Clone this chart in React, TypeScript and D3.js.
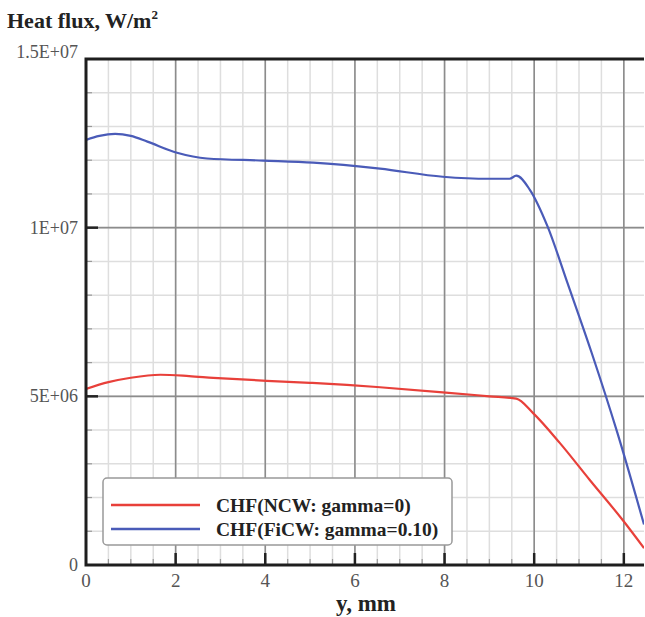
import { useEffect, useRef } from "react";
import * as d3 from "d3";

// CHF(NCW: gamma=0)
const ncwY = [0, 0.5, 1.0, 1.66, 2.3, 2.84, 4.03, 5.0, 5.82, 6.56, 7.96, 9.0, 9.6, 9.97, 10.57, 11.24, 11.97, 12.45];
const ncwQ = [5.22e6, 5.42e6, 5.55e6, 5.64e6, 5.6e6, 5.55e6, 5.46e6, 5.4e6, 5.34e6, 5.27e6, 5.12e6, 5.0e6, 4.93e6, 4.51e6, 3.62e6, 2.52e6, 1.34e6, 0.5e6];

// CHF(FiCW: gamma=0.10)
const ficwY = [0, 0.3, 0.65, 1.0, 1.37, 2.03, 2.7, 3.95, 5.07, 6.56, 7.96, 9.0, 9.45, 9.6, 9.9, 10.3, 10.74, 11.28, 11.86, 12.45];
const ficwQ = [12.6e6, 12.72e6, 12.78e6, 12.72e6, 12.55e6, 12.22e6, 12.05e6, 11.99e6, 11.93e6, 11.75e6, 11.51e6, 11.45e6, 11.45e6, 11.54e6, 11.13e6, 10.03e6, 8.37e6, 6.3e6, 3.9e6, 1.2e6];

const xTicks = [0, 2, 4, 6, 8, 10, 12];
const yTicks = [0, 5e6, 1e7, 1.5e7];
const yTickLabels = ["0", "5E+06", "1E+07", "1.5E+07"];
const seriesNames = ["CHF(NCW: gamma=0)", "CHF(FiCW: gamma=0.10)"];
const seriesColors = ["#e8403a", "#4a5bb8"];

export default function App() {
  const svgRef = useRef(null);

  useEffect(() => {
    const width = 645;
    const height = 617;
    const left = 86, right = 644, top = 59, bottom = 565;
    const serif = "'Liberation Serif', 'Times New Roman', serif";

    const svg = d3.select(svgRef.current).attr("width", width).attr("height", height);
    svg.selectAll("*").remove();

    const x = d3.scaleLinear().domain([0, 12.45]).range([left, right]);
    const y = d3.scaleLinear().domain([0, 1.5e7]).range([bottom, top]);

    svg.append("rect").attr("width", width).attr("height", height).attr("fill", "#fff");

    const grid = svg.append("g");
    // minor grid
    grid
      .selectAll("line.mx")
      .data(d3.range(0.5, 12.45, 0.5))
      .enter()
      .append("line")
      .attr("x1", (d) => x(d))
      .attr("x2", (d) => x(d))
      .attr("y1", top)
      .attr("y2", bottom)
      .attr("stroke", "#dedede")
      .attr("stroke-width", 1.5);
    grid
      .selectAll("line.my")
      .data(d3.range(1e6, 1.5e7, 1e6))
      .enter()
      .append("line")
      .attr("x1", left)
      .attr("x2", right)
      .attr("y1", (d) => y(d))
      .attr("y2", (d) => y(d))
      .attr("stroke", "#dedede")
      .attr("stroke-width", 1.5);
    // major grid
    grid
      .selectAll("line.Mx")
      .data(xTicks.slice(1))
      .enter()
      .append("line")
      .attr("x1", (d) => x(d))
      .attr("x2", (d) => x(d))
      .attr("y1", top)
      .attr("y2", bottom)
      .attr("stroke", "#8c8c8c")
      .attr("stroke-width", 1.6);
    grid
      .selectAll("line.My")
      .data(yTicks.slice(1, 3))
      .enter()
      .append("line")
      .attr("x1", left)
      .attr("x2", right)
      .attr("y1", (d) => y(d))
      .attr("y2", (d) => y(d))
      .attr("stroke", "#8c8c8c")
      .attr("stroke-width", 1.6);

    // ticks inside the frame
    const tk = svg.append("g");
    d3.range(0.5, 12.45, 0.5).forEach((d) => {
      const major = d % 2 === 0;
      tk.append("line")
        .attr("x1", x(d)).attr("x2", x(d))
        .attr("y1", bottom).attr("y2", bottom - (major ? 12 : 6))
        .attr("stroke-width", major ? 2.5 : 1.2)
        .attr("stroke", major ? "#222" : "#999");
    });
    d3.range(1e6, 1.5e7, 1e6).forEach((d) => {
      const major = d % 5e6 === 0;
      tk.append("line")
        .attr("x1", left).attr("x2", left + (major ? 12 : 6))
        .attr("y1", y(d)).attr("y2", y(d))
        .attr("stroke-width", major ? 2.5 : 1.2)
        .attr("stroke", major ? "#222" : "#999");
    });

    const clipId = "plot-clip";
    svg.append("clipPath").attr("id", clipId)
      .append("rect").attr("x", left).attr("y", top).attr("width", right - left).attr("height", bottom - top);

    const line = d3.line<[number, number]>()
      .x((d) => x(d[0]))
      .y((d) => y(d[1]))
      .curve(d3.curveMonotoneX);

    const series = [
      ncwY.map((v, i) => [v, ncwQ[i]] as [number, number]),
      ficwY.map((v, i) => [v, ficwQ[i]] as [number, number]),
    ];
    series.forEach((s, i) => {
      svg.append("path")
        .attr("d", line(s))
        .attr("fill", "none")
        .attr("stroke", seriesColors[i])
        .attr("stroke-width", 2.2)
        .attr("clip-path", `url(#${clipId})`);
    });

    // frame
    svg.append("path")
      .attr("d", `M${right},${top}H${left}V${bottom}H${right}`)
      .attr("fill", "none")
      .attr("stroke", "#1e1e1e")
      .attr("stroke-width", 3);

    // tick labels
    svg.append("g")
      .selectAll("text")
      .data(xTicks)
      .enter()
      .append("text")
      .attr("x", (d) => x(d))
      .attr("y", bottom + 22)
      .attr("text-anchor", "middle")
      .attr("font-family", serif)
      .attr("font-size", 19)
      .attr("fill", "#555")
      .text((d) => String(d));

    svg.append("g")
      .selectAll("text")
      .data(yTicks)
      .enter()
      .append("text")
      .attr("x", left - 8)
      .attr("y", (d, i) => y(d) + (i === 3 ? -1 : 6))
      .attr("text-anchor", "end")
      .attr("font-family", serif)
      .attr("font-size", 18)
      .attr("fill", "#555")
      .text((d, i) => yTickLabels[i]);

    // titles
    const t = svg.append("text")
      .attr("x", 7)
      .attr("y", 28)
      .attr("font-family", serif)
      .attr("font-weight", "bold")
      .attr("font-size", 22)
      .attr("fill", "#222");
    t.append("tspan").text("Heat flux, W/m");
    t.append("tspan").attr("dy", -9).attr("font-size", 13).text("2");

    svg.append("text")
      .attr("x", 366)
      .attr("y", 611)
      .attr("text-anchor", "middle")
      .attr("font-family", serif)
      .attr("font-weight", "bold")
      .attr("font-size", 23)
      .attr("fill", "#222")
      .text("y, mm");

    // legend
    const lg = svg.append("g");
    lg.append("rect")
      .attr("x", 103).attr("y", 478)
      .attr("width", 349).attr("height", 67)
      .attr("rx", 4)
      .attr("fill", "#fff")
      .attr("stroke", "#999")
      .attr("stroke-width", 1.5);
    seriesNames.forEach((name, i) => {
      const ly = 505 + i * 24;
      lg.append("line")
        .attr("x1", 111).attr("x2", 200)
        .attr("y1", ly).attr("y2", ly)
        .attr("stroke", seriesColors[i])
        .attr("stroke-width", 2.5);
      lg.append("text")
        .attr("x", 216).attr("y", ly + 7)
        .attr("font-family", serif)
        .attr("font-weight", "bold")
        .attr("font-size", 19.5)
        .attr("fill", "#222")
        .text(name);
    });
  }, []);

  return <svg ref={svgRef} style={{ position: "absolute", left: 0, top: 0 }}></svg>;
}
